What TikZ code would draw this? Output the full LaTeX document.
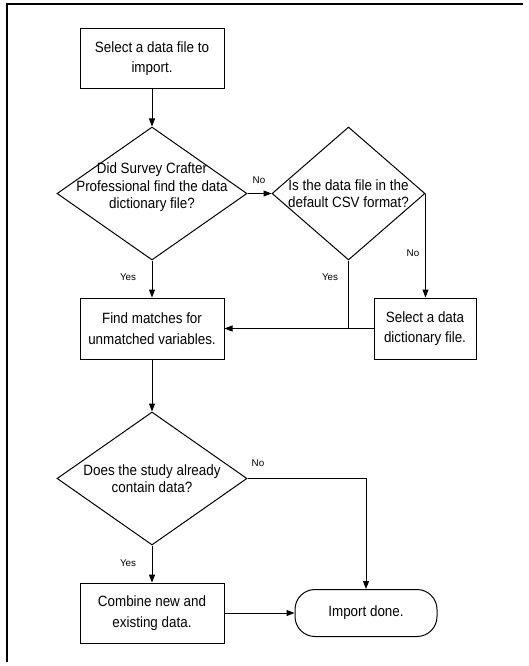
\documentclass[tikz,border=0pt]{standalone}
\usepackage{fontspec}
\setmainfont{Liberation Sans}[FakeStretch=0.9]
\newfontfamily\tagfont{Liberation Sans}
\usetikzlibrary{
  arrows.meta,
  positioning,
  shapes.geometric
}

\begin{document}
\begin{tikzpicture}[
  x=1pt, y=-1pt,
  line width=1pt,
  proc/.style={draw, rectangle, minimum width=144pt, minimum height=60pt,
    align=center, font=\fontsize{14.9}{20.5}\selectfont},
  decision/.style={draw, diamond, minimum width=190pt, minimum height=133pt,
    inner sep=-20pt, align=center, font=\fontsize{14.9}{17.5}\selectfont},
  terminal/.style={draw, rectangle, rounded corners=20pt, minimum width=142pt,
    minimum height=47pt, font=\fontsize{14.9}{17}\selectfont},
  lbl/.style={font=\tagfont\fontsize{9.8}{11}\selectfont, inner sep=0pt},
  arr/.style={-{Triangle[length=8pt, width=6pt]}}
]
  \useasboundingbox (0,0) rectangle (528,666);

  % page frame (top and left edges only)
  \draw[line width=1.3pt] (7,662) -- (7,4) -- (523,4);

  \node[proc] (pick) at (152,58.5) {Select a data file to\\import.};
  \node[decision, text depth=15pt] (found) at (152,193.5)
    {Did Survey Crafter\\Professional find the data\\dictionary file?};
  \node[decision, minimum width=153pt] (csv) at (348.5,193.5)
    {Is the data file in the\\default CSV format?};
  \node[proc, minimum height=61pt] (match) at (152,328.5)
    {Find matches for\\unmatched variables.};
  \node[proc, minimum width=102pt, minimum height=61pt] (dict) at (425,328.5)
    {Select a data\\dictionary file.};
  \node[decision] (hasdata) at (152,478.5)
    {Does the study already\\contain data?};
  \node[proc] (combine) at (152,613) {Combine new and\\existing data.};
  \node[terminal] (done) at (366,613) {Import done.};

  % branch labels
  \node[lbl] (no1) at (259,180) {No};
  \node[lbl] (no2) at (413,253) {No};
  \node[lbl] (yes1) at (128,277) {Yes};
  \node[lbl] (yes2) at (330,277) {Yes};
  \node[lbl] (no3) at (258,463) {No};
  \node[lbl] (yes3) at (128,563) {Yes};

  % connectors
  \draw[arr] (pick) -- (found);
  \draw[arr] (found) -- (csv);
  \draw[arr] (csv.east) -- (csv.east |- dict.north);
  \draw[arr] (found.south) -- (found.south |- match.north);
  \draw (csv.south) -- (csv.south |- dict.west);
  \draw[arr] (dict) -- (match);
  \draw[arr] (match) -- (hasdata);
  \draw[arr] (hasdata.east) -| (done.north);
  \draw[arr] (hasdata) -- (combine);
  \draw[arr] (combine) -- (done);

\end{tikzpicture}
\end{document}
